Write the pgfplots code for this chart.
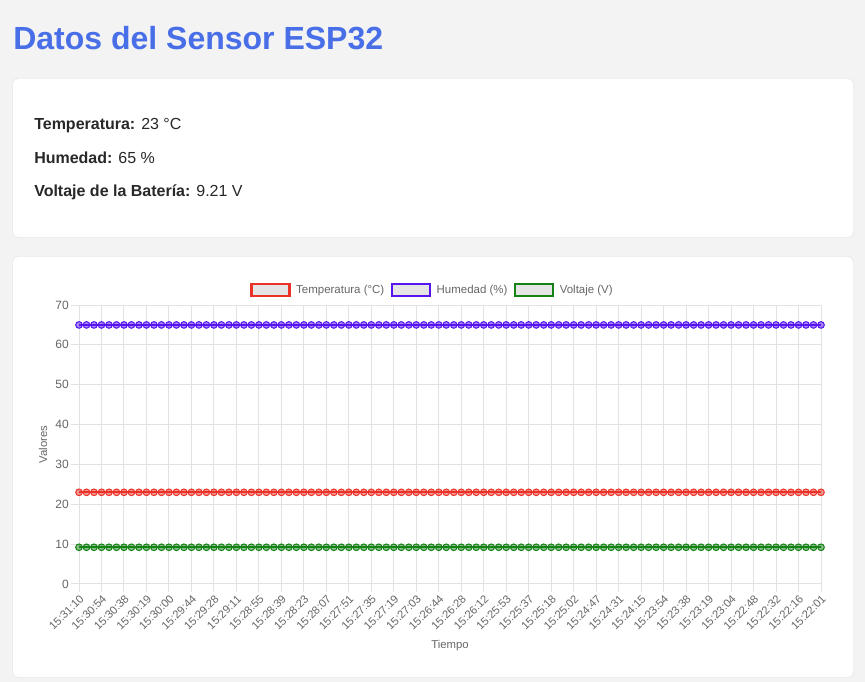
\documentclass[border=0pt]{standalone}
\usepackage{pgfplots}
\pgfplotsset{compat=1.18}
\usepackage{pgfplotstable}
\usepackage{fontspec}
\setmainfont{Liberation Sans}

\definecolor{pagebg}{RGB}{243,243,243}
\definecolor{titleblue}{RGB}{72,110,232}
\definecolor{txt}{RGB}{40,40,40}
\definecolor{chartgray}{RGB}{102,102,102}
\definecolor{gridc}{RGB}{226,226,226}
\definecolor{tempc}{RGB}{235,50,40}
\definecolor{humc}{RGB}{85,20,240}
\definecolor{voltc}{RGB}{20,130,20}

% lecturas del sensor, la mas reciente primero
\pgfplotstableread{
x T H V
0 23 65 9.21
1 23 65 9.21
2 23 65 9.21
3 23 65 9.21
4 23 65 9.21
5 23 65 9.21
6 23 65 9.21
7 23 65 9.21
8 23 65 9.21
9 23 65 9.21
10 23 65 9.21
11 23 65 9.21
12 23 65 9.21
13 23 65 9.21
14 23 65 9.21
15 23 65 9.21
16 23 65 9.21
17 23 65 9.21
18 23 65 9.21
19 23 65 9.21
20 23 65 9.21
21 23 65 9.21
22 23 65 9.21
23 23 65 9.21
24 23 65 9.21
25 23 65 9.21
26 23 65 9.21
27 23 65 9.21
28 23 65 9.21
29 23 65 9.21
30 23 65 9.21
31 23 65 9.21
32 23 65 9.21
33 23 65 9.21
34 23 65 9.21
35 23 65 9.21
36 23 65 9.21
37 23 65 9.21
38 23 65 9.21
39 23 65 9.21
40 23 65 9.21
41 23 65 9.21
42 23 65 9.21
43 23 65 9.21
44 23 65 9.21
45 23 65 9.21
46 23 65 9.21
47 23 65 9.21
48 23 65 9.21
49 23 65 9.21
50 23 65 9.21
51 23 65 9.21
52 23 65 9.21
53 23 65 9.21
54 23 65 9.21
55 23 65 9.21
56 23 65 9.21
57 23 65 9.21
58 23 65 9.21
59 23 65 9.21
60 23 65 9.21
61 23 65 9.21
62 23 65 9.21
63 23 65 9.21
64 23 65 9.21
65 23 65 9.21
66 23 65 9.21
67 23 65 9.21
68 23 65 9.21
69 23 65 9.21
70 23 65 9.21
71 23 65 9.21
72 23 65 9.21
73 23 65 9.21
74 23 65 9.21
75 23 65 9.21
76 23 65 9.21
77 23 65 9.21
78 23 65 9.21
79 23 65 9.21
80 23 65 9.21
81 23 65 9.21
82 23 65 9.21
83 23 65 9.21
84 23 65 9.21
85 23 65 9.21
86 23 65 9.21
87 23 65 9.21
88 23 65 9.21
89 23 65 9.21
90 23 65 9.21
91 23 65 9.21
92 23 65 9.21
93 23 65 9.21
94 23 65 9.21
95 23 65 9.21
96 23 65 9.21
97 23 65 9.21
98 23 65 9.21
99 23 65 9.21
}\sensordata

\begin{document}
\begin{tikzpicture}[x=0.75pt, y=0.75pt]
	% fondo de la pagina
	\fill[pagebg] (0,0) rectangle (865,682);
	\node[anchor=base west, inner sep=0pt, text=titleblue, font=\fontsize{24}{29}\selectfont\bfseries]
		at (13,632) {Datos del Sensor ESP32};
	% tarjeta de valores
	\fill[black!7, rounded corners=4pt] (12,444) rectangle (854,604);
	\fill[white, rounded corners=4pt] (13,445) rectangle (853,603);
	\begin{scope}[every node/.style={anchor=base west, inner sep=0pt, text=txt, font=\fontsize{12}{14}\selectfont}]
		\node at (34,552) {\textbf{Temperatura:} 23 °C};
		\node at (34,518) {\textbf{Humedad:} 65 \%};
		\node at (34,485) {\textbf{Voltaje de la Batería:} 9.21 V};
	\end{scope}
	% tarjeta del grafico
	\fill[black!7, rounded corners=4pt] (12,4) rectangle (854,426);
	\fill[white, rounded corners=4pt] (13,5) rectangle (853,425);
	\begin{axis}[
	at={(59.25pt,73.5pt)}, anchor=south west,
	scale only axis,
	width=556.5pt, height=209.25pt,
	xmin=0, xmax=99,
	ymin=0, ymax=70,
	xtick={0,3,...,99},
	xticklabels={15:31:10,15:30:54,15:30:38,15:30:19,15:30:00,15:29:44,15:29:28,15:29:11,15:28:55,15:28:39,15:28:23,15:28:07,15:27:51,15:27:35,15:27:19,15:27:03,15:26:44,15:26:28,15:26:12,15:25:53,15:25:37,15:25:18,15:25:02,15:24:47,15:24:31,15:24:15,15:23:54,15:23:38,15:23:19,15:23:04,15:22:48,15:22:32,15:22:16,15:22:01},
	ytick={0,10,...,70},
	xtick pos=bottom, ytick pos=left,
	grid=major,
	major grid style={gridc, line width=0.75pt},
	axis line style={gridc, line width=0.75pt},
	tick style={gridc, line width=0.75pt},
	tick align=outside,
	major tick length=6pt,
	/pgf/number format/assume math mode=true,
	tick label style={font=\fontsize{9}{11}\selectfont, text=chartgray},
	xticklabel style={rotate=45, anchor=north east, inner sep=1pt, font=\fontsize{8.4}{10}\selectfont},
	yticklabel style={inner sep=1.5pt},
	xlabel={Tiempo},
	ylabel={Valores},
	label style={font=\fontsize{8.5}{10}\selectfont, text=chartgray},
	x label style={at={(axis description cs:0.5,-0.222)}, anchor=center},
	y label style={at={(axis description cs:-0.0485,0.5)}, anchor=center},
	clip=false,
	legend columns=3,
	legend cell align=left,
	legend style={draw=none, fill=none, at={(axis description cs:0.477,1.054)}, anchor=center,
		font=\fontsize{8.6}{10}\selectfont, text=chartgray,
		/tikz/every odd column/.append style={column sep=2pt},
		/tikz/every even column/.append style={column sep=3pt}},
	legend image code/.code={\draw[#1, line width=1.8pt, fill=black!10] (0pt,-4.5pt) rectangle (28.5pt,4.5pt);},
	]
	\addplot [tempc, line width=1.5pt, mark=*, mark size=2.5pt,
		mark options={fill=tempc, fill opacity=0.5, line width=0.75pt}]
		table [x=x, y=T] {\sensordata};
	\addlegendentry{Temperatura (°C)}
	\addplot [humc, line width=1.5pt, mark=*, mark size=2.5pt,
		mark options={fill=humc, fill opacity=0.5, line width=0.75pt}]
		table [x=x, y=H] {\sensordata};
	\addlegendentry{Humedad (\%)}
	\addplot [voltc, line width=1.5pt, mark=*, mark size=2.5pt,
		mark options={fill=voltc, fill opacity=0.5, line width=0.75pt}]
		table [x=x, y=V] {\sensordata};
	\addlegendentry{Voltaje (V)}
	\end{axis}
	\pgfresetboundingbox
	\useasboundingbox (0,0) rectangle (865,682);
\end{tikzpicture}
\end{document}
